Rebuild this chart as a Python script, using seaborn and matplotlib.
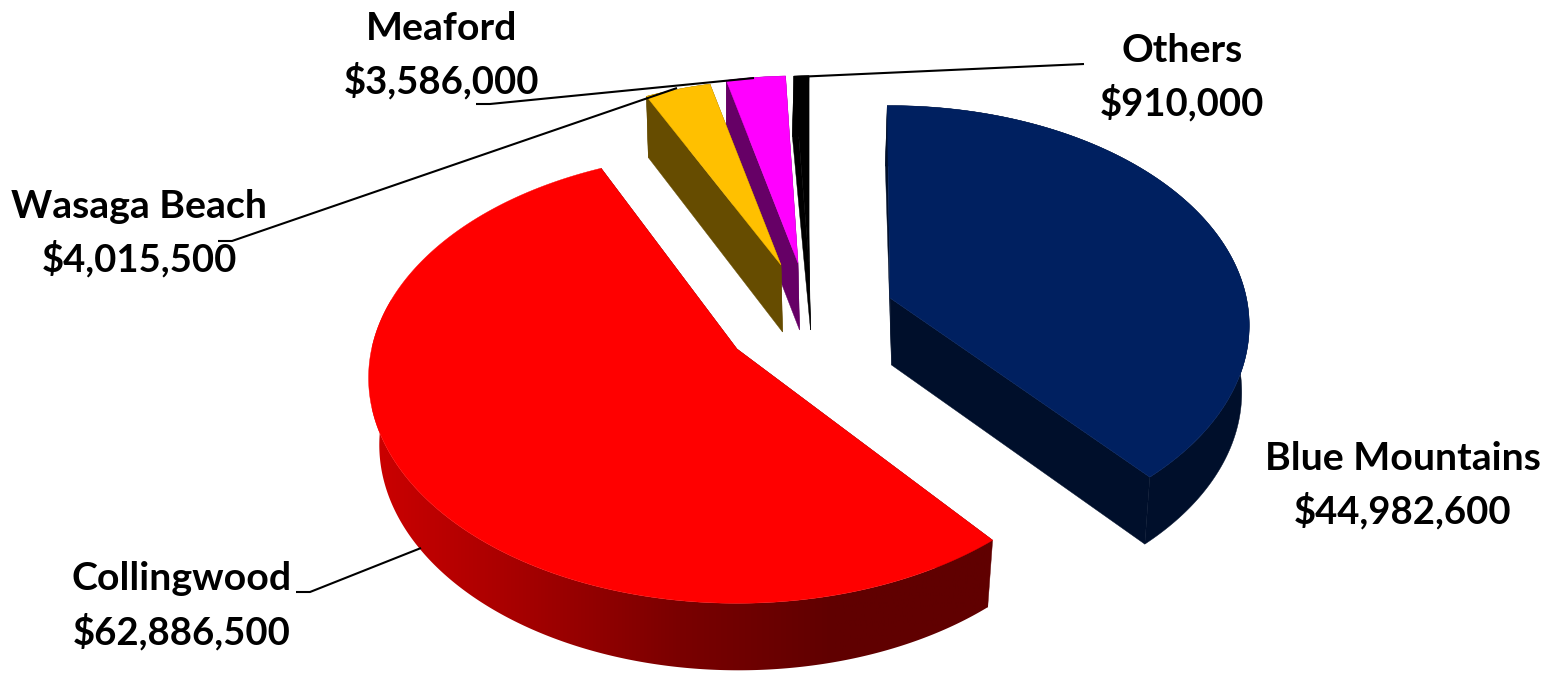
import numpy as np
import pandas as pd
import matplotlib.pyplot as plt
from matplotlib.patches import Polygon
import seaborn as sns

categories = ["Blue Mountains", "Collingwood", "Wasaga Beach", "Meaford", "Others"]
values = [44982600, 62886500, 4015500, 3586000, 910000]

# Look of each slice
top_colors = ["#002060", "#ff0000", "#ffc000", "#ff00ff", "#000000"]
side_colors = ["#000f2b", None, "#664c00", "#660066", "#000000"]
apex_x = [890, 737, 781, 798, 809]
apex_y = [298, 349, 265, 263, 263]
scale = [0.99, 1.015, 0.95, 0.96, 0.96]
turn = [0, 2.3, 1, 1, 0.5]
draw_order = ["Others", "Meaford", "Wasaga Beach", "Collingwood", "Blue Mountains"]

label_x = [1403, 182, 139, 442, 1182]
label_y = [458, 579, 206, 28, 50]

# Leaders: label end, elbow, end at the slice
leaders = {
    "Collingwood": [(296, 592), (310, 592), (421, 548)],
    "Wasaga Beach": [(218, 241), (232, 241), (677, 88)],
    "Meaford": [(476, 104), (490, 104), (754, 78)],
    "Others": [(1084, 64), (795, 77)],
}

# Pie plane seen in perspective
RX, RY, PERSP, DEPTH = 360, 218.5, 0.126, 67
START = -0.5

df = pd.DataFrame({"category": categories, "value": values})
df["sweep"] = df["value"] / df["value"].sum() * 360
df["start"] = START + df["sweep"].cumsum().shift(fill_value=0) + turn
df["end"] = df["start"] + df["sweep"]
df["top"] = top_colors
df["side"] = side_colors
df["ax"] = apex_x
df["ay"] = apex_y
df["scale"] = scale
df["lx"] = label_x
df["ly"] = label_y


def project(theta, row, s=None):
    s = row["scale"] if s is None else s
    t = np.radians(theta)
    x = np.sin(t) * s
    y = np.cos(t) * s
    w = 1 + PERSP * y
    return RX * x / w, -RY * y / w, y


def top_points(theta, row, s=None):
    dx, dy, _ = project(theta, row, s)
    return np.column_stack([row["ax"] + dx, row["ay"] + dy])


def bottom_points(theta, row, s=None):
    dx, dy, y = project(theta, row, s)
    back = np.clip(y, 0, None)
    shift = -0.025 * dx + 1.5 - 3.5 * back
    drop = DEPTH * (1 - 0.1 * back)
    return np.column_stack([row["ax"] + dx + shift, row["ay"] + dy + drop])


sns.set_theme(style="white")
plt.rcParams["font.family"] = ["Lato", "DejaVu Sans"]

red_side = sns.blend_palette(["#cc0000", "#a40000", "#7a0000", "#600000", "#600000"], as_cmap=True)

fig = plt.figure(figsize=(15.49, 6.73), dpi=100)
ax = fig.add_axes([0, 0, 1, 1])

z = 1
for name in draw_order:
    row = df[df["category"] == name].iloc[0]
    thetas = np.linspace(row["start"], row["end"], max(int(row["sweep"] * 2), 4))
    top = top_points(thetas, row)
    bot = bottom_points(thetas, row)
    apex_top = top_points(np.array([0.0]), row, 0.0)[0]
    apex_bot = bottom_points(np.array([0.0]), row, 0.0)[0]
    wall = np.vstack([top, bot[::-1]])

    # radial faces, then the outer wall, then the top
    side = row["side"] if row["side"] else "#600000"
    for i in (0, -1):
        ax.fill(*zip(*[apex_top, top[i], bot[i], apex_bot]), color=side, lw=0.3, zorder=z)

    if row["side"]:
        ax.fill(*zip(*wall), color=side, lw=0.3, zorder=z + 0.1)
    else:
        ramp = np.linspace(0, 1, 256).reshape(1, -1)
        im = ax.imshow(ramp, cmap=red_side, extent=(372, 988, 680, 300), aspect="auto", zorder=z + 0.1)
        im.set_clip_path(Polygon(wall, transform=ax.transData))

    ax.fill(*zip(*np.vstack([apex_top, top])), color=row["top"], lw=0.3, zorder=z + 0.2)
    z += 1

for name, pts in leaders.items():
    xs, ys = zip(*pts)
    ax.plot(xs, ys, color="black", lw=1.5, solid_capstyle="butt", zorder=20)

for _, row in df.iterrows():
    ax.text(row["lx"], row["ly"], row["category"], ha="center", va="center",
            fontsize=28.3, fontweight="bold", color="black", zorder=21)
    ax.text(row["lx"], row["ly"] + 53, f"${row['value']:,}", ha="center", va="center",
            fontsize=27.5, fontweight="bold", color="black", zorder=21)

ax.set_xlim(0, 1549)
ax.set_ylim(673, 0)
ax.axis("off")

plt.savefig("out.png", dpi=100)
